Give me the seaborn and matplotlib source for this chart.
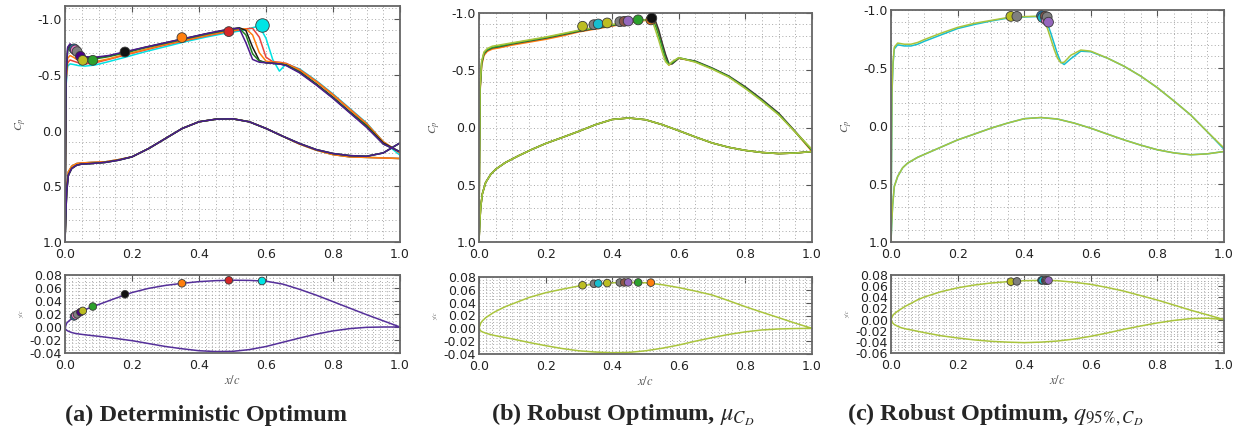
import numpy as np
import pandas as pd
import matplotlib
matplotlib.use("Agg")
import matplotlib.pyplot as plt
from matplotlib.ticker import MultipleLocator, FormatStrFormatter
import seaborn as sns

# ---------------------------------------------------------------- data
# (a) deterministic optimum: upper-surface Cp on a shared x grid
XA_UP = [0.0, 0.003, 0.008, 0.015, 0.025, 0.04, 0.06, 0.09, 0.13, 0.18, 0.24, 0.30,
         0.36, 0.42, 0.47, 0.50, 0.52, 0.54, 0.56, 0.58, 0.60, 0.62, 0.64, 0.66,
         0.70, 0.75, 0.80, 0.85, 0.90, 0.95, 1.00]
A_UP_INDIGO = [0.95, -0.50, -0.75, -0.78, -0.75, -0.70, -0.665, -0.66, -0.675, -0.71, -0.75, -0.79,
               -0.83, -0.87, -0.90, -0.915, -0.92, -0.79, -0.64, -0.615, -0.61, -0.605, -0.60, -0.585,
               -0.52, -0.41, -0.29, -0.16, -0.03, 0.12, 0.19]
A_UP_GREEN = [0.95, -0.48, -0.72, -0.755, -0.73, -0.685, -0.65, -0.645, -0.665, -0.70, -0.745, -0.785,
              -0.825, -0.865, -0.895, -0.91, -0.92, -0.86, -0.69, -0.625, -0.61, -0.605, -0.60, -0.59,
              -0.525, -0.415, -0.295, -0.165, -0.04, 0.12, 0.19]
A_UP_BLACK = [0.95, -0.50, -0.74, -0.775, -0.745, -0.695, -0.66, -0.655, -0.67, -0.705, -0.75, -0.79,
              -0.83, -0.87, -0.90, -0.915, -0.925, -0.90, -0.75, -0.63, -0.61, -0.605, -0.60, -0.59,
              -0.53, -0.42, -0.30, -0.17, -0.045, 0.11, 0.19]
A_UP_ORANGE = [0.95, -0.45, -0.65, -0.675, -0.66, -0.63, -0.615, -0.62, -0.645, -0.685, -0.73, -0.775,
               -0.815, -0.855, -0.885, -0.90, -0.91, -0.915, -0.86, -0.70, -0.625, -0.615, -0.61, -0.60,
               -0.545, -0.44, -0.32, -0.19, -0.06, 0.10, 0.20]
A_UP_RED = [0.95, -0.43, -0.61, -0.635, -0.625, -0.61, -0.60, -0.61, -0.64, -0.68, -0.725, -0.77,
            -0.81, -0.85, -0.88, -0.895, -0.905, -0.915, -0.92, -0.84, -0.66, -0.62, -0.615, -0.605,
            -0.55, -0.445, -0.325, -0.195, -0.065, 0.10, 0.20]
A_UP_CYAN = [0.95, -0.40, -0.58, -0.60, -0.595, -0.585, -0.58, -0.59, -0.62, -0.66, -0.71, -0.755,
             -0.80, -0.84, -0.87, -0.885, -0.895, -0.91, -0.925, -0.94, -0.83, -0.64, -0.535, -0.60,
             -0.555, -0.45, -0.33, -0.20, -0.07, 0.10, 0.22]

XA_LO = [0.0, 0.002, 0.005, 0.01, 0.02, 0.035, 0.05, 0.08, 0.12, 0.16, 0.2, 0.25, 0.3, 0.35,
         0.4, 0.45, 0.5, 0.55, 0.6, 0.65, 0.7, 0.75, 0.8, 0.85, 0.9, 0.95, 1.0]
A_LO_DARK = [1.0, 0.80, 0.55, 0.40, 0.34, 0.31, 0.30, 0.295, 0.285, 0.265, 0.235, 0.16, 0.07, -0.02,
             -0.08, -0.103, -0.107, -0.08, -0.02, 0.05, 0.115, 0.17, 0.205, 0.224, 0.23, 0.20, 0.11]
A_LO_LIGHT = [1.0, 0.78, 0.52, 0.37, 0.32, 0.295, 0.29, 0.285, 0.28, 0.26, 0.235, 0.16, 0.07, -0.02,
              -0.08, -0.103, -0.107, -0.08, -0.02, 0.05, 0.12, 0.175, 0.215, 0.235, 0.24, 0.245, 0.25]

# (b) robust optimum, mean drag
XB_UP = [0.0, 0.003, 0.008, 0.015, 0.025, 0.04, 0.06, 0.1, 0.15, 0.2, 0.25, 0.3, 0.35, 0.4,
         0.45, 0.5, 0.52, 0.53, 0.54, 0.55, 0.56, 0.57, 0.58, 0.6, 0.65, 0.7, 0.75, 0.8,
         0.85, 0.9, 0.95, 1.0]
B_UP_ORANGE = [0.9, -0.30, -0.54, -0.63, -0.665, -0.685, -0.695, -0.72, -0.745, -0.77, -0.80, -0.835,
               -0.86, -0.885, -0.915, -0.935, -0.94, -0.92, -0.83, -0.73, -0.63, -0.545, -0.56, -0.605,
               -0.575, -0.515, -0.445, -0.35, -0.24, -0.12, 0.04, 0.21]
B_UP_BLACK = [0.9, -0.32, -0.56, -0.645, -0.675, -0.695, -0.705, -0.73, -0.755, -0.78, -0.81, -0.84,
              -0.865, -0.89, -0.92, -0.94, -0.945, -0.93, -0.85, -0.74, -0.64, -0.56, -0.555, -0.605,
              -0.58, -0.52, -0.45, -0.355, -0.245, -0.125, 0.035, 0.20]
B_UP_GREEN = [0.9, -0.33, -0.57, -0.65, -0.68, -0.70, -0.71, -0.735, -0.76, -0.785, -0.815, -0.845,
              -0.87, -0.895, -0.92, -0.94, -0.94, -0.89, -0.80, -0.70, -0.60, -0.55, -0.565, -0.61,
              -0.575, -0.515, -0.445, -0.345, -0.235, -0.115, 0.04, 0.20]
B_UP_OLIVE = [0.9, -0.35, -0.58, -0.66, -0.69, -0.71, -0.72, -0.74, -0.765, -0.79, -0.82, -0.85,
              -0.875, -0.90, -0.925, -0.94, -0.935, -0.85, -0.76, -0.66, -0.575, -0.545, -0.575, -0.61,
              -0.57, -0.51, -0.44, -0.34, -0.23, -0.11, 0.04, 0.19]
XB_LO = [0.0, 0.002, 0.005, 0.01, 0.02, 0.035, 0.05, 0.08, 0.12, 0.16, 0.2, 0.25, 0.3, 0.35,
         0.4, 0.45, 0.5, 0.55, 0.6, 0.65, 0.7, 0.75, 0.8, 0.85, 0.9, 0.95, 1.0]
B_LO = [1.0, 0.85, 0.70, 0.58, 0.48, 0.41, 0.365, 0.305, 0.245, 0.19, 0.14, 0.087, 0.033, -0.025,
        -0.07, -0.083, -0.068, -0.025, 0.028, 0.083, 0.135, 0.173, 0.20, 0.218, 0.228, 0.223, 0.21]

# (c) robust optimum, 95% quantile of drag
XC_UP = [0.0, 0.003, 0.006, 0.01, 0.02, 0.04, 0.06, 0.08, 0.1, 0.15, 0.2, 0.25, 0.3, 0.35,
         0.4, 0.45, 0.46, 0.47, 0.48, 0.49, 0.5, 0.51, 0.52, 0.54, 0.57, 0.6, 0.65, 0.7,
         0.75, 0.8, 0.85, 0.9, 0.95, 1.0]
C_UP_CYAN = [0.9, -0.28, -0.53, -0.665, -0.70, -0.69, -0.69, -0.705, -0.73, -0.785, -0.84, -0.875,
             -0.905, -0.93, -0.94, -0.945, -0.94, -0.88, -0.80, -0.71, -0.62, -0.55, -0.53, -0.58,
             -0.645, -0.64, -0.585, -0.515, -0.43, -0.33, -0.215, -0.095, 0.05, 0.20]
C_UP_OLIVE = [0.9, -0.30, -0.55, -0.68, -0.715, -0.705, -0.705, -0.72, -0.745, -0.80, -0.85, -0.885,
              -0.91, -0.935, -0.943, -0.947, -0.90, -0.84, -0.75, -0.66, -0.585, -0.545, -0.55, -0.61,
              -0.655, -0.645, -0.585, -0.515, -0.43, -0.33, -0.215, -0.095, 0.05, 0.19]
XC_LO = [0.0, 0.002, 0.005, 0.01, 0.02, 0.035, 0.05, 0.08, 0.12, 0.16, 0.2, 0.25, 0.3, 0.35,
         0.4, 0.45, 0.5, 0.55, 0.6, 0.65, 0.7, 0.75, 0.8, 0.85, 0.9, 0.95, 1.0]
C_LO = [1.0, 0.85, 0.68, 0.52, 0.435, 0.36, 0.32, 0.27, 0.22, 0.17, 0.12, 0.07, 0.019, -0.025,
        -0.063, -0.073, -0.06, -0.025, 0.019, 0.07, 0.12, 0.165, 0.205, 0.232, 0.248, 0.24, 0.22]

# airfoil sections (y/c) on a shared x grid
XS = [0.0, 0.005, 0.01, 0.02, 0.03, 0.045, 0.06, 0.08, 0.1, 0.15, 0.2, 0.25, 0.3, 0.35,
      0.4, 0.45, 0.5, 0.55, 0.6, 0.65, 0.7, 0.75, 0.8, 0.85, 0.9, 0.95, 1.0]
A_Y_UP = [-0.002, 0.006, 0.0085, 0.013, 0.0172, 0.0228, 0.0265, 0.031, 0.0345, 0.044, 0.053, 0.0595,
          0.064, 0.0672, 0.0698, 0.0713, 0.072, 0.0717, 0.0705, 0.066, 0.058, 0.049, 0.039, 0.029,
          0.019, 0.0095, 0.0]
A_Y_LO = [-0.002, -0.005, -0.0065, -0.0085, -0.0098, -0.011, -0.012, -0.0132, -0.0143, -0.0175,
          -0.021, -0.0255, -0.030, -0.0335, -0.0365, -0.0378, -0.0375, -0.0348, -0.030, -0.0235,
          -0.017, -0.011, -0.006, -0.0025, -0.0005, 0.0, 0.0]
B_Y_UP = [0.0, 0.008, 0.0115, 0.0165, 0.020, 0.025, 0.029, 0.034, 0.038, 0.048, 0.0555, 0.061,
          0.066, 0.069, 0.071, 0.0716, 0.071, 0.068, 0.0635, 0.058, 0.052, 0.043, 0.0337, 0.025,
          0.0166, 0.008, 0.0]
B_Y_LO = [0.0, -0.004, -0.0055, -0.0075, -0.009, -0.011, -0.0125, -0.0145, -0.0165, -0.022,
          -0.027, -0.0315, -0.035, -0.037, -0.038, -0.0375, -0.035, -0.031, -0.026, -0.020,
          -0.0145, -0.0095, -0.0055, -0.0025, -0.001, -0.0003, 0.0]
C_Y_UP = [0.0, 0.007, 0.0105, 0.015, 0.019, 0.0245, 0.029, 0.0355, 0.0405, 0.050, 0.057, 0.062,
          0.0656, 0.068, 0.0698, 0.0703, 0.0698, 0.067, 0.0632, 0.0575, 0.051, 0.043, 0.035, 0.026,
          0.0168, 0.0085, 0.0]
C_Y_LO = [0.0, -0.006, -0.009, -0.012, -0.0145, -0.0168, -0.0185, -0.021, -0.0234, -0.029,
          -0.033, -0.0365, -0.039, -0.0405, -0.0414, -0.0405, -0.0385, -0.035, -0.030, -0.024,
          -0.0174, -0.0115, -0.006, -0.0015, 0.0018, 0.0025, 0.0]

# marked points per sample: chord position, section y/c and Cp
A_MK_COLOR = ["#1f77b4", "#e377c2", "#7f7f7f", "#4b0082", "#bcbd22",
              "#2ca02c", "#111111", "#ff7f0e", "#d62728", "#00e5e5"]
A_MK_X = [0.027, 0.031, 0.036, 0.046, 0.053, 0.083, 0.179, 0.349, 0.489, 0.588]
A_MK_Y = [0.0162, 0.0178, 0.0195, 0.0228, 0.0248, 0.0315, 0.0504, 0.0672, 0.0718, 0.0708]
A_MK_CP = [-0.735, -0.725, -0.71, -0.668, -0.632, -0.632, -0.707, -0.836, -0.89, -0.946]

B_MK_COLOR = ["#bcbd22", "#7f7f7f", "#17becf", "#bcbd22", "#7f7f7f",
              "#8c564b", "#9467bd", "#2ca02c", "#ff7f0e", "#111111"]
B_MK_X = [0.311, 0.345, 0.358, 0.385, 0.423, 0.436, 0.448, 0.478, 0.516, 0.519]
B_MK_Y = [0.0671, 0.0695, 0.0700, 0.0705, 0.0714, 0.0715, 0.0716, 0.0715, 0.0712, 0.0712]
B_MK_CP = [-0.884, -0.898, -0.904, -0.913, -0.924, -0.927, -0.93, -0.94, -0.94, -0.955]

C_MK_COLOR = ["#bcbd22", "#7f7f7f", "#1f77b4", "#17becf", "#8c564b",
              "#e377c2", "#7f7f7f", "#9467bd"]
C_MK_X = [0.360, 0.378, 0.452, 0.455, 0.463, 0.466, 0.469, 0.473]
C_MK_Y = [0.0680, 0.0685, 0.0703, 0.0703, 0.0702, 0.0702, 0.0702, 0.0702]
C_MK_CP = [-0.945, -0.945, -0.95, -0.935, -0.945, -0.915, -0.94, -0.895]

CAPTIONS = ["(a) Deterministic Optimum",
            r"(b) Robust Optimum, $\mu_{C_D}$",
            r"(c) Robust Optimum, $q_{95\%,C_D}$"]

# ---------------------------------------------------------------- style
sns.set_theme(style="white")
plt.rcParams.update({
    "font.family": ["DejaVu Sans"],
    "mathtext.fontset": "stix",
    "axes.edgecolor": "#6e6e6e",
    "axes.linewidth": 1.3,
})

W, H = 1242, 434
fig = plt.figure(figsize=(W / 100, H / 100), dpi=100)


def box(left, right, top, bottom):
    return [left / W, 1 - bottom / H, (right - left) / W, (bottom - top) / H]


def style(ax, xminor, yminor):
    ax.xaxis.set_major_locator(MultipleLocator(0.2))
    ax.xaxis.set_minor_locator(MultipleLocator(xminor))
    ax.yaxis.set_minor_locator(MultipleLocator(yminor))
    ax.xaxis.set_major_formatter(FormatStrFormatter("%.1f"))
    ax.tick_params(which="both", direction="in", top=True, right=True,
                   color="#555555", labelcolor="#222222", labelsize=9)
    ax.tick_params(axis="x", pad=4)
    ax.tick_params(axis="y", pad=2)
    ax.tick_params(which="major", length=4, width=0.8)
    ax.tick_params(which="minor", length=0)
    ax.grid(True, which="both", linestyle=(0, (1, 2.5)), color="#a8a8a8", lw=0.7)
    ax.set_xlim(0.0, 1.0)
    for sp in ax.spines.values():
        sp.set_color("#666666")
        sp.set_linewidth(1.3)


def cp_curve(ax, xl, lo, xu, up, color, lw=1.1):
    x = list(reversed(xl)) + list(xu)
    y = list(reversed(lo)) + list(up)
    sns.lineplot(x=x, y=y, ax=ax, color=color, lw=lw, sort=False, estimator=None)


def markers(ax, xs, ys, cols, size):
    df = pd.DataFrame({"x": xs, "y": ys, "c": [f"{i}" for i in range(len(xs))]})
    pal = {f"{i}": c for i, c in enumerate(cols)}
    sns.scatterplot(data=df, x="x", y="y", hue="c", palette=pal, s=size, ax=ax,
                    legend=False, edgecolor="#3a3a3a", linewidth=0.6, zorder=5)


def section(ax, yu, yl, color):
    x = list(reversed(XS)) + list(XS)
    y = list(reversed(yl)) + list(yu)
    sns.lineplot(x=x, y=y, ax=ax, color=color, lw=1.1, sort=False, estimator=None)


def top_panel(ax, ylim_top):
    style(ax, 0.05, 0.1)
    ax.set_ylim(1.0, ylim_top)
    ax.yaxis.set_major_locator(MultipleLocator(0.5))
    ax.yaxis.set_major_formatter(FormatStrFormatter("%.1f"))
    ax.set_ylabel("$C_p$", fontsize=8.5, color="#555555", labelpad=6)
    ax.set_xlabel("")


def bottom_panel(ax, ylo):
    style(ax, 0.02, 0.005)
    ax.set_ylim(ylo, 0.08)
    ax.yaxis.set_major_locator(MultipleLocator(0.02))
    ax.yaxis.set_major_formatter(FormatStrFormatter("%.2f"))
    ax.set_ylabel("$y/c$", fontsize=4, color="#555555", labelpad=3)
    ax.set_xlabel("$x/c$", fontsize=9, color="#555555", labelpad=2)


# ---------------------------------------------------------------- (a)
ax = fig.add_axes(box(65, 400, 6, 242))
cp_curve(ax, XA_LO, A_LO_LIGHT, XA_UP, A_UP_CYAN, "#00e3e3")
cp_curve(ax, XA_LO, A_LO_LIGHT, XA_UP, A_UP_RED, "#e8453c")
cp_curve(ax, XA_LO, A_LO_LIGHT, XA_UP, A_UP_ORANGE, "#ff7f0e")
cp_curve(ax, XA_LO, A_LO_DARK, XA_UP, A_UP_BLACK, "#1a1a1a")
cp_curve(ax, XA_LO, A_LO_DARK, XA_UP, A_UP_GREEN, "#1f7f1f")
cp_curve(ax, XA_LO, A_LO_DARK, XA_UP, A_UP_INDIGO, "#4b1a8c")
markers(ax, A_MK_X[:-1], A_MK_CP[:-1], A_MK_COLOR[:-1], 50)
markers(ax, A_MK_X[-1:], A_MK_CP[-1:], A_MK_COLOR[-1:], 95)
top_panel(ax, -1.12)

ax = fig.add_axes(box(65, 400, 275, 353))
section(ax, A_Y_UP, A_Y_LO, "#55309a")
markers(ax, A_MK_X, A_MK_Y, A_MK_COLOR, 30)
bottom_panel(ax, -0.04)

# ---------------------------------------------------------------- (b)
ax = fig.add_axes(box(479, 812, 13, 242))
cp_curve(ax, XB_LO, B_LO, XB_UP, B_UP_ORANGE, "#ff7f0e")
cp_curve(ax, XB_LO, B_LO, XB_UP, B_UP_BLACK, "#3a3a3a")
cp_curve(ax, XB_LO, B_LO, XB_UP, B_UP_GREEN, "#2ca02c")
cp_curve(ax, XB_LO, B_LO, XB_UP, B_UP_OLIVE, "#a9c43c")
markers(ax, B_MK_X, B_MK_CP, B_MK_COLOR, 50)
top_panel(ax, -1.0)

ax = fig.add_axes(box(479, 812, 277, 354))
section(ax, B_Y_UP, B_Y_LO, "#a9c43c")
markers(ax, B_MK_X[:-1], B_MK_Y[:-1], B_MK_COLOR[:-1], 30)
bottom_panel(ax, -0.04)

# ---------------------------------------------------------------- (c)
ax = fig.add_axes(box(891, 1224, 10, 242))
cp_curve(ax, XC_LO, C_LO, XC_UP, C_UP_CYAN, "#17becf")
cp_curve(ax, XC_LO, C_LO, XC_UP, C_UP_OLIVE, "#a9c43c")
markers(ax, C_MK_X, C_MK_CP, C_MK_COLOR, 50)
top_panel(ax, -1.0)

ax = fig.add_axes(box(891, 1224, 275, 353))
section(ax, C_Y_UP, C_Y_LO, "#a9c43c")
markers(ax, C_MK_X, C_MK_Y, C_MK_COLOR, 30)
bottom_panel(ax, -0.06)

# ---------------------------------------------------------------- captions
for xc, txt in zip([206, 623, 995], CAPTIONS):
    fig.text(xc / W, 1 - 415 / H, txt, ha="center", va="center",
             fontsize=17.5, fontweight="bold", family=["Liberation Serif", "DejaVu Serif"])

fig.savefig("out.png", dpi=100)
